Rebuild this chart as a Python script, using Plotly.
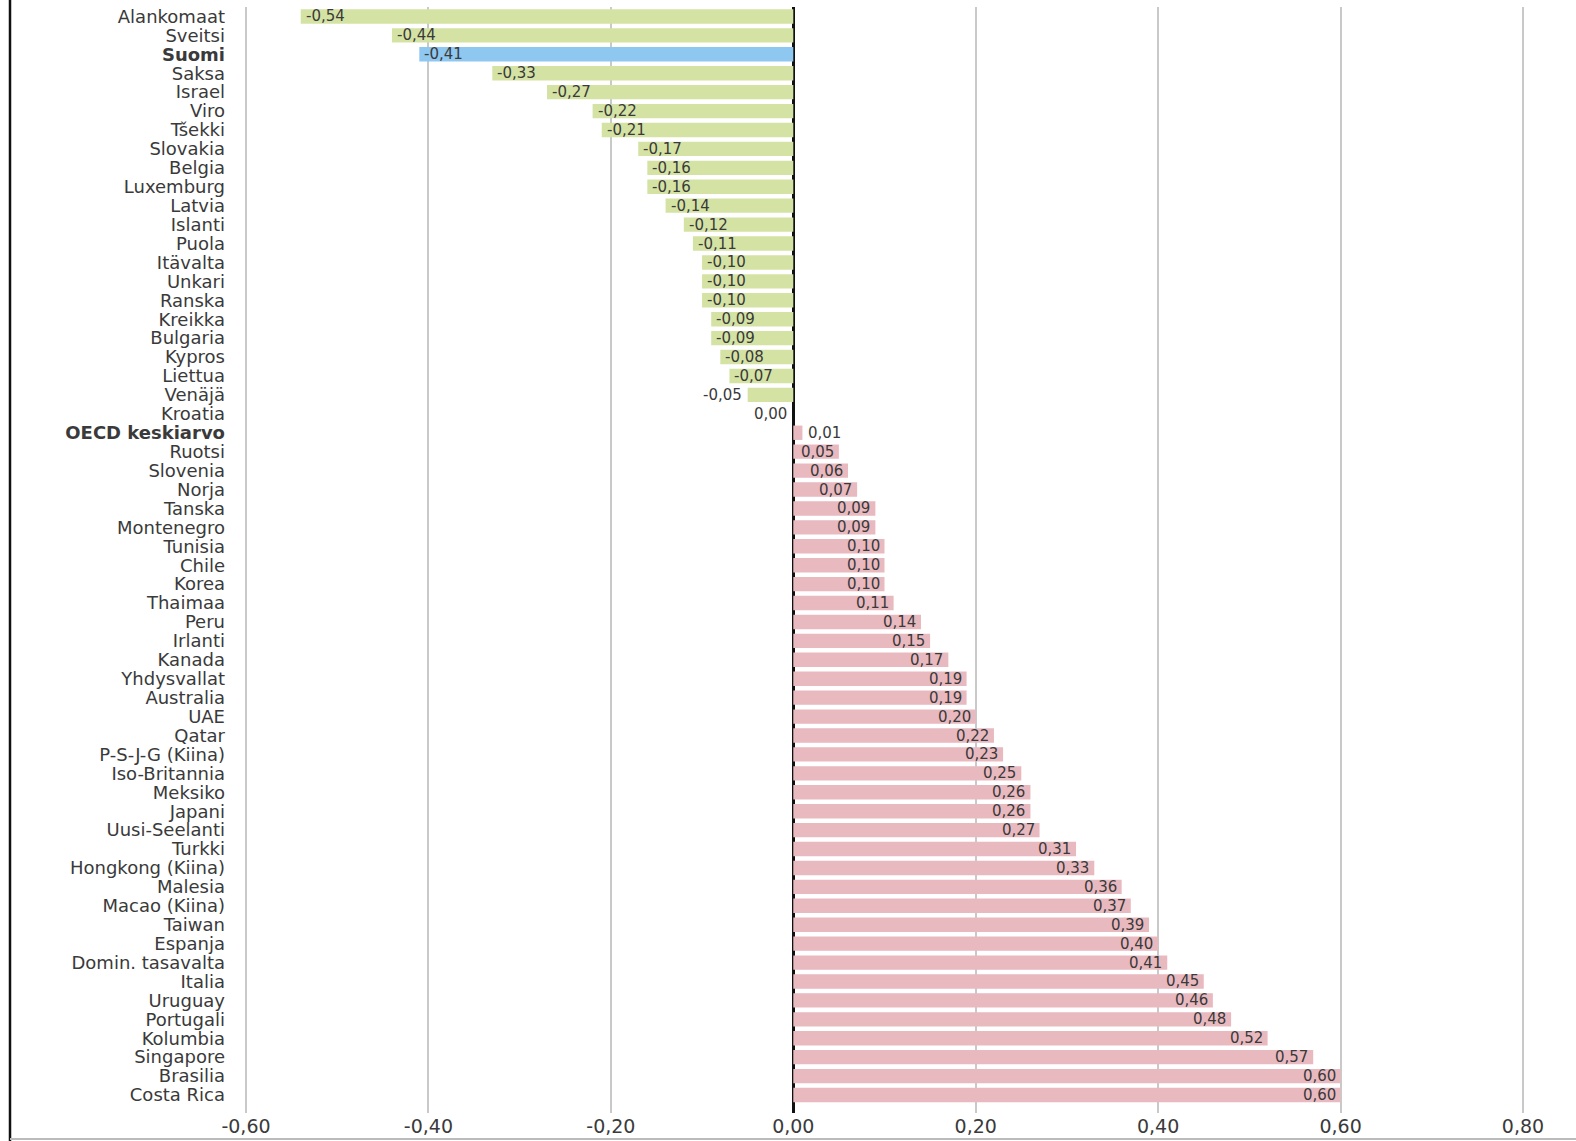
import plotly.graph_objects as go

countries = ["Alankomaat", "Sveitsi", "Suomi", "Saksa", "Israel", "Viro", "Tšekki", "Slovakia",
             "Belgia", "Luxemburg", "Latvia", "Islanti", "Puola", "Itävalta", "Unkari", "Ranska",
             "Kreikka", "Bulgaria", "Kypros", "Liettua", "Venäjä", "Kroatia", "OECD keskiarvo",
             "Ruotsi", "Slovenia", "Norja", "Tanska", "Montenegro", "Tunisia", "Chile", "Korea",
             "Thaimaa", "Peru", "Irlanti", "Kanada", "Yhdysvallat", "Australia", "UAE", "Qatar",
             "P-S-J-G (Kiina)", "Iso-Britannia", "Meksiko", "Japani", "Uusi-Seelanti", "Turkki",
             "Hongkong (Kiina)", "Malesia", "Macao (Kiina)", "Taiwan", "Espanja",
             "Domin. tasavalta", "Italia", "Uruguay", "Portugali", "Kolumbia", "Singapore",
             "Brasilia", "Costa Rica"]
values = [-0.54, -0.44, -0.41, -0.33, -0.27, -0.22, -0.21, -0.17, -0.16, -0.16, -0.14, -0.12,
          -0.11, -0.10, -0.10, -0.10, -0.09, -0.09, -0.08, -0.07, -0.05, 0.00, 0.01, 0.05, 0.06,
          0.07, 0.09, 0.09, 0.10, 0.10, 0.10, 0.11, 0.14, 0.15, 0.17, 0.19, 0.19, 0.20, 0.22,
          0.23, 0.25, 0.26, 0.26, 0.27, 0.31, 0.33, 0.36, 0.37, 0.39, 0.40, 0.41, 0.45, 0.46,
          0.48, 0.52, 0.57, 0.60, 0.60]
bold_rows = ["Suomi", "OECD keskiarvo"]
highlight = "Suomi"
x_ticks = [-0.6, -0.4, -0.2, 0.0, 0.2, 0.4, 0.6, 0.8]
x_ticklabels = ["-0,60", "-0,40", "-0,20", "0,00", "0,20", "0,40", "0,60", "0,80"]

GREEN = "#d4e3a4"
BLUE = "#8ec7ef"
PINK = "#e9b9c0"
TXT = "#3a3a3a"
FONT = "DejaVu Sans"

labels = [f"<b>{c}</b>" if c in bold_rows else c for c in countries]
colors = [BLUE if c == highlight else (GREEN if v <= 0 else PINK) for c, v in zip(countries, values)]

fig = go.Figure(go.Bar(
    x=values, y=labels, orientation="h", marker=dict(color=colors, line=dict(width=0)),
    hoverinfo="x+y",
))

for lab, v in zip(labels, values):
    txt = f"{v:.2f}".replace(".", ",")
    outside = -0.06 < v < 0.05
    if v <= 0:
        xa, xs = ("right", -4) if outside else ("left", 3)
    else:
        xa, xs = ("left", 4) if outside else ("right", -3)
    fig.add_annotation(x=v, y=lab, text=txt, showarrow=False, xanchor=xa, xshift=xs,
                       font=dict(family=FONT, size=15, color=TXT))

n = len(countries)
L, R, T, B = 241, 48, 7, 28
W = 1576 - L - R
H = 1141 - T - B
pad = 5 / 912.0
fig.update_layout(
    width=1576, height=1141,
    margin=dict(l=L, r=R, t=T, b=B, autoexpand=False),
    paper_bgcolor="white", plot_bgcolor="white",
    bargap=0.24, showlegend=False,
    font=dict(family=FONT, color=TXT),
    xaxis=dict(range=[-0.6 - pad, 0.8 + pad], tickvals=x_ticks, ticktext=x_ticklabels,
               showgrid=True, gridcolor="#c9c9c9", gridwidth=1.5,
               zeroline=True, zerolinecolor="#111111", zerolinewidth=2.5,
               showline=False, ticks="", automargin=False,
               tickfont=dict(family=FONT, size=19, color=TXT)),
    yaxis=dict(range=[n - 0.05, -0.5], tickmode="array", tickvals=labels, ticktext=labels,
               showgrid=False, zeroline=False, showline=False, automargin=False,
               ticks="", ticklabelstandoff=15, tickfont=dict(family=FONT, size=18, color=TXT)),
    shapes=[
        dict(type="line", xref="paper", yref="paper", x0=-(L - 10) / W, x1=-(L - 10) / W,
             y0=-B / H, y1=1 + T / H, line=dict(color="#111111", width=2.5)),
        dict(type="line", xref="paper", yref="paper", x0=-(L - 10) / W, x1=1 + R / W,
             y0=-26 / H, y1=-26 / H, line=dict(color="#bbbbbb", width=2)),
    ],
)

fig.write_html("out.html", config={"displayModeBar": False},
               post_script="document.body.style.margin='0';document.body.style.padding='0';"
                           "document.body.style.overflow='hidden';")
